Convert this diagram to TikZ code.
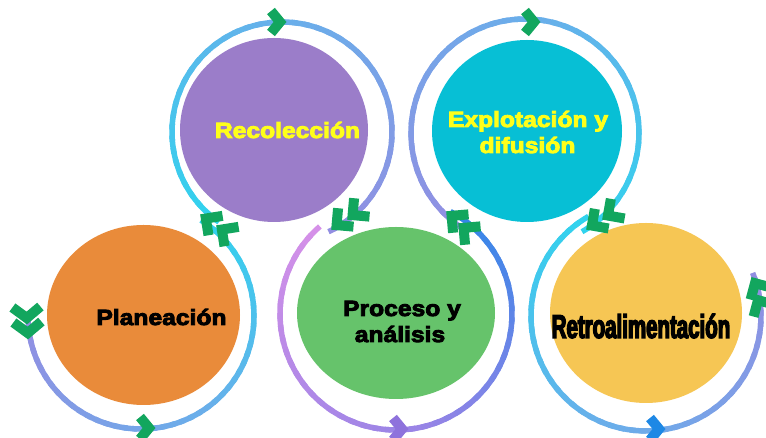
\documentclass[tikz,border=0pt]{standalone}
\usepackage{fontspec}
\setmainfont{Liberation Sans}
\newfontfamily\lbl[FakeStretch=1.12,FakeBold=4]{Liberation Sans Bold}
\newfontfamily\lblc[FakeStretch=0.62,FakeBold=4]{Liberation Sans Bold}
\usetikzlibrary{shapes.geometric}
\definecolor{cplan}{HTML}{E98B3A}
\definecolor{creco}{HTML}{9B7DC9}
\definecolor{cproc}{HTML}{66C36B}
\definecolor{cexpl}{HTML}{07BFD5}
\definecolor{cretro}{HTML}{F6C654}
\definecolor{chg}{HTML}{12A65E}
\definecolor{chp}{HTML}{8E72DC}
\definecolor{chb}{HTML}{1E88E5}
\definecolor{ylw}{HTML}{FFFF1A}
\definecolor{lav}{HTML}{928EE2}
\definecolor{lblue}{HTML}{6AAEEA}
\definecolor{cyn}{HTML}{30D3EE}
\definecolor{orch}{HTML}{D590E8}
\definecolor{mpur}{HTML}{9A84E6}
\definecolor{dblue}{HTML}{2F86E8}
% gradient ring: center, radius, start, end, c1, c2, c3
\newcommand\gring[7]{%
  \foreach \k in {0,...,47}{%
    \pgfmathsetmacro\angA{#3+(#4-#3)*\k/48}%
    \pgfmathsetmacro\angB{#3+(#4-#3)*min(\k+1.5,48)/48}%
    \ifnum\k<24
      \pgfmathtruncatemacro\mixp{100*\k/23}%
      \colorlet{cc}{#6!\mixp!#5}%
    \else
      \pgfmathtruncatemacro\mixp{100*(\k-24)/23}%
      \colorlet{cc}{#7!\mixp!#6}%
    \fi
    \draw[ringline, cc] ([shift={(\angA:#2)}]#1) arc[start angle=\angA, end angle=\angB, radius=#2];
  }}
% chevron: name, x, y, direction, colour, depth, spread
\newcommand\chv[7]{%
  \coordinate (#1) at (#2,#3);
  \begin{scope}[shift={(#1)}, rotate=#4]
    \draw[chevron, draw=#5] (-#6,#7) -- (-6,0) -- (-#6,-#7);
  \end{scope}}
\begin{document}
\begin{tikzpicture}[x=1pt,y=1pt,
  ringline/.style={line width=5.5pt},
  chevron/.style={line width=10pt, line join=miter, line cap=butt},
  blob/.style={ellipse, draw=none, inner sep=0pt},
  lab/.style={anchor=base, inner sep=0pt, font=\lbl\fontsize{22}{24}\selectfont}]
\useasboundingbox (0,0) rectangle (766,438);
\fill[white] (0,0) rectangle (766,438);
% ring centres
\coordinate (r1) at (141,122);
\coordinate (r2) at (282,306);
\coordinate (r3) at (396,124);
\coordinate (r4) at (525,305);
\coordinate (r5) at (646,122);
% rings
\gring{r1}{113pt}{182}{418}{lav}{lblue}{cyn}
\gring{r2}{110pt}{235}{-65}{cyn}{lblue}{lav}
\gring{r3}{116pt}{131}{422}{orch}{mpur}{dblue}
\gring{r4}{114pt}{238}{-60}{lav}{lblue}{cyn}
\gring{r5}{115pt}{120}{382}{cyn}{lblue}{lav}
% circles
\node[blob, fill=cplan, minimum width=193pt, minimum height=180pt] (plan) at (143.5,123) {};
\node[blob, fill=creco, minimum width=188pt, minimum height=184pt] (reco) at (274,308) {};
\node[blob, fill=cproc, minimum width=198pt, minimum height=172pt] (proc) at (396,125) {};
\node[blob, fill=cexpl, minimum width=190pt, minimum height=182pt] (expl) at (527,307) {};
\node[blob, fill=cretro, minimum width=192pt, minimum height=180pt] (retro) at (646,125) {};
% chevrons
\chv{j1a}{27}{114}{272}{chg}{17}{14}
\chv{j1b}{28}{99}{272}{chg}{17}{14}
\chv{s1}{155}{10}{0}{chg}{15}{11}
\chv{j2a}{201}{223}{144}{chg}{18}{12}
\chv{j2b}{217}{212}{144}{chg}{18}{12}
\chv{s2}{286}{416}{0}{chg}{15}{11}
\chv{j3a}{332}{209}{220}{chg}{18}{12}
\chv{j3b}{348}{219}{220}{chg}{18}{12}
\chv{s3}{408}{9}{0}{chp}{15}{11}
\chv{j4a}{447}{226}{140}{chg}{18}{12}
\chv{j4b}{459}{214}{140}{chg}{18}{12}
\chv{s4}{540}{416}{0}{chg}{15}{11}
\chv{j5a}{587}{209}{215}{chg}{18}{12}
\chv{j5b}{603}{219}{215}{chg}{18}{12}
\chv{s5}{665}{9}{0}{chb}{15}{11}
\chv{j6a}{752}{160}{120}{chg}{18}{12}
\chv{j6b}{755}{143}{120}{chg}{18}{12}
% labels
\node[lab, text=black] (tplan) at (161.5,113) {Planeación};
\node[lab, text=ylw] (treco) at (287.5,300) {Recolección};
\node[lab, text=black] (tproc1) at (402,122) {Proceso y};
\node[lab, text=black] (tproc2) at (400,96) {análisis};
\node[lab, text=ylw] (texpl1) at (528,311) {Explotación y};
\node[lab, text=ylw] (texpl2) at (527.5,285) {difusión};
\node[anchor=base, inner sep=0pt, font=\lblc\fontsize{33}{35}\selectfont] (tretro) at (641,100) {Retroalimentación};
\end{tikzpicture}
\end{document}
